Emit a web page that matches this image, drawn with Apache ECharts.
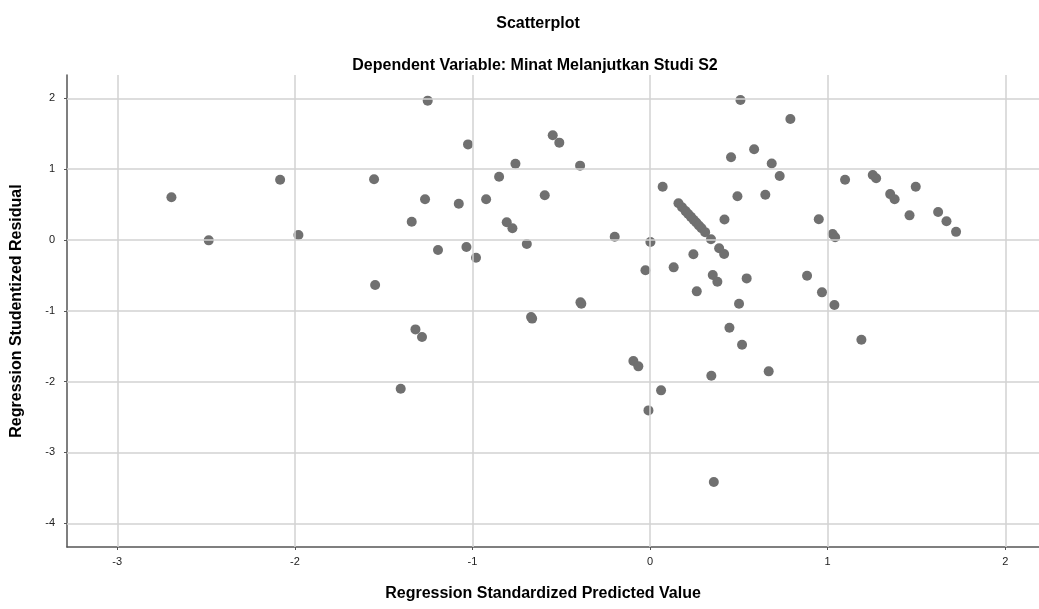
<!DOCTYPE html>
<html>
<head>
<meta charset="utf-8">
<script src="https://cdn.jsdelivr.net/npm/echarts@6/dist/echarts.min.js"></script>
<style>
  html, body { margin: 0; padding: 0; background: #fff; }
  #chart { width: 1039px; height: 609px; }
</style>
</head>
<body>
<div id="chart"></div>
<script>
// Regression Standardized Predicted Value (x) and Regression Studentized Residual (y)
const predicted = [
  -2.695, -2.485, -2.083, -1.980, -1.554, -1.548, -1.252, -1.025, -1.267, -1.342,
  -1.077, -1.194, -1.034, -0.980, -0.923, -0.850, -0.758, -0.807, -0.775, -0.694,
  -0.593, -0.548, -0.511, -0.394, -0.392, -0.387, -0.199, 0.002, -0.026, 0.071,
  0.133, 0.244, 0.343, 0.353, 0.379, 0.263, 0.389, 0.417,
  0.160, 0.180, 0.200, 0.215, 0.230, 0.245, 0.260, 0.275, 0.290, 0.310,
  0.509, 0.790, 0.586, 0.456, 0.685, 0.730, 0.492, 0.649, 0.419, 1.098,
  1.254, 1.273, 1.352, 1.377, 1.496, 1.461, 1.622, 1.669, 1.723, 0.950,
  1.028, 1.042, 0.544, 0.884, 0.968, 0.501, 1.038, 1.190, 0.359, 0.447,
  0.518, 0.345, 0.668, -1.321, -1.284, -1.404, -0.670, -0.664, -0.094, -0.066,
  0.062, -0.009
];
const residual = [
  0.603, -0.005, 0.852, 0.070, 0.857, -0.636, 1.968, 1.350, 0.575, 0.259,
  0.513, -0.141, -0.099, -0.250, 0.575, 0.894, 1.078, 0.250, 0.165, -0.056,
  0.631, 1.478, 1.375, 1.050, -0.880, -0.900, 0.047, -0.028, -0.428, 0.753,
  -0.386, -0.202, 0.010, -0.494, -0.589, -0.725, -0.117, -0.198,
  0.520, 0.462, 0.408, 0.368, 0.327, 0.287, 0.246, 0.206, 0.165, 0.111,
  1.977, 1.709, 1.281, 1.168, 1.080, 0.904, 0.619, 0.638, 0.290, 0.852,
  0.918, 0.871, 0.648, 0.575, 0.751, 0.348, 0.395, 0.266, 0.115, 0.292,
  0.085, 0.038, -0.542, -0.504, -0.739, -0.900, -0.918, -1.408, -3.418, -1.238,
  -1.478, -1.916, -1.855, -1.262, -1.370, -2.100, -1.088, -1.110, -1.709, -1.784,
  -2.123, -2.406
];
const xTicks = [-3, -2, -1, 0, 1, 2];
const yTicks = [2, 1, 0, -1, -2, -3, -4];

const points = predicted.map((x, i) => [x, residual[i]]);

const chart = echarts.init(document.getElementById('chart'));

const option = {
  backgroundColor: '#ffffff',
  animation: false,
  textStyle: { fontFamily: 'Liberation Sans, Arial, sans-serif' },
  title: [
    {
      text: 'Scatterplot',
      left: 533, top: 11, textAlign: 'center',
      textStyle: { fontSize: 16, fontWeight: 'bold', color: '#000' }
    },
    {
      text: 'Dependent Variable: Minat Melanjutkan Studi S2',
      left: 530, top: 53, textAlign: 'center',
      textStyle: { fontSize: 16, fontWeight: 'bold', color: '#000' }
    }
  ],
  grid: { left: 67, top: 75, right: 0, bottom: 62 },
  xAxis: {
    type: 'value',
    min: -3.283,
    max: 2.19,
    name: 'Regression Standardized Predicted Value',
    nameLocation: 'middle',
    nameGap: 39,
    nameTextStyle: { fontSize: 16, fontWeight: 'bold', color: '#000', padding: [0, 20, 0, 0] },
    axisLine: { show: true, onZero: false, lineStyle: { color: '#555', width: 1.5 } },
    axisTick: { show: true, customValues: xTicks, length: 3, lineStyle: { color: '#555' } },
    axisLabel: { customValues: xTicks, fontSize: 11, color: '#222', margin: 9 },
    splitLine: { show: false }
  },
  yAxis: {
    type: 'value',
    min: -4.335,
    max: 2.33,
    name: 'Regression Studentized Residual',
    nameLocation: 'middle',
    nameGap: 42,
    nameTextStyle: { fontSize: 16, fontWeight: 'bold', color: '#000' },
    axisLine: { show: true, onZero: false, lineStyle: { color: '#555', width: 1.5 } },
    axisTick: { show: true, customValues: yTicks, length: 3, lineStyle: { color: '#555' } },
    axisLabel: { customValues: yTicks, fontSize: 11, color: '#222', margin: 12 },
    splitLine: { show: false }
  },
  series: [
    {
      // grid lines at the tick values
      type: 'scatter',
      data: [],
      z: 1,
      silent: true,
      markLine: {
        silent: true,
        symbol: 'none',
        label: { show: false },
        lineStyle: { color: '#d2d2d2', width: 1.5, type: 'solid' },
        data: xTicks.map(v => ({ xAxis: v })).concat(yTicks.map(v => ({ yAxis: v })))
      }
    },
    {
      type: 'scatter',
      z: 3,
      symbol: 'circle',
      symbolSize: 10,
      itemStyle: { color: '#707070', opacity: 1 },
      data: points
    }
  ]
};

chart.setOption(option);
</script>
</body>
</html>
